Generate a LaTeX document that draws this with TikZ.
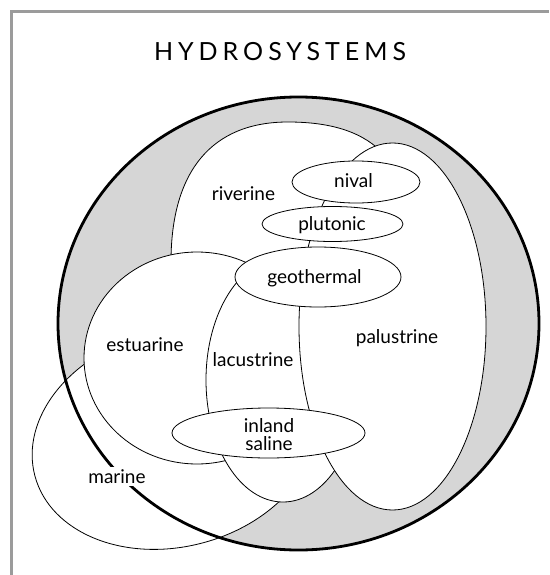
\documentclass[tikz,border=0pt]{standalone}
\usepackage{fontspec}
\setmainfont{Lato}
\newfontfamily\titlefont[LetterSpace=20]{Lato}
\definecolor{ringgray}{RGB}{214,214,214}
\definecolor{framegray}{RGB}{155,155,155}
\begin{document}
\begin{tikzpicture}[x=1pt,y=-1pt,
  region/.style={draw=black, line width=0.8pt, fill=white},
  lbl/.style={font=\fontsize{19}{17.5}\selectfont, inner sep=0pt, anchor=base, align=center},
]
\useasboundingbox (0,0) rectangle (549,575);
% frame
\draw[framegray, line width=2.5pt] (11.5,575) coordinate (fb) -- (11.5,11.5) coordinate (fc) -- (549,11.5) coordinate (fr);
% gray ring (fill of the whole hydrosystem)
\fill[ringgray] (298.5,323.5) ellipse [x radius=240.5pt, y radius=226.5pt];
% marine
\path[region, rotate around={15:(175,438.5)}] (175,438.5) ellipse [x radius=145pt, y radius=108pt];
% riverine
\path[region] (288,122) .. controls (212,122) and (171,171) .. (171,262)
  .. controls (171,330) and (220,380) .. (288,380)
  .. controls (356,380) and (415,330) .. (415,262)
  .. controls (415,164) and (377,122) .. (288,122) -- cycle;
% estuarine
\path[region] (197,358) ellipse [x radius=113pt, y radius=106pt];
% lacustrine
\path[region] (283,380) ellipse [x radius=77pt, y radius=122pt];
% palustrine
\path[region] (392.5,326.5) ellipse [x radius=93.5pt, y radius=183.5pt];
% small ellipses
\path[region] (318,277) ellipse [x radius=83pt, y radius=30pt];
\path[region] (332.5,224) ellipse [x radius=70.5pt, y radius=17.5pt];
\path[region] (356,182) ellipse [x radius=64pt, y radius=21pt];
\path[region] (268.5,433) ellipse [x radius=96.5pt, y radius=25pt];
% thick outline of the hydrosystems
\draw[line width=2.8pt] (298.5,323.5) ellipse [x radius=240.5pt, y radius=226.5pt];
% labels
\node[font=\titlefont\fontsize{25}{25}\selectfont, anchor=base, inner sep=0pt] (title) at (280,61) {HYDROSYSTEMS};
\node[lbl] (riv) at (243.5,200) {riverine};
\node[lbl] (niv) at (353.5,187) {nival};
\node[lbl] (plu) at (332,230) {plutonic};
\node[lbl] (geo) at (314.5,283) {geothermal};
\node[lbl] (pal) at (397,343) {palustrine};
\node[lbl] (lac) at (253,366) {lacustrine};
\node[lbl] (est) at (145,351) {estuarine};
\node[lbl] (inl) at (269,450) {inland\\saline};
\node[lbl, fill=white, inner sep=2.5pt] (mar) at (117,483) {marine};
\end{tikzpicture}
\end{document}
